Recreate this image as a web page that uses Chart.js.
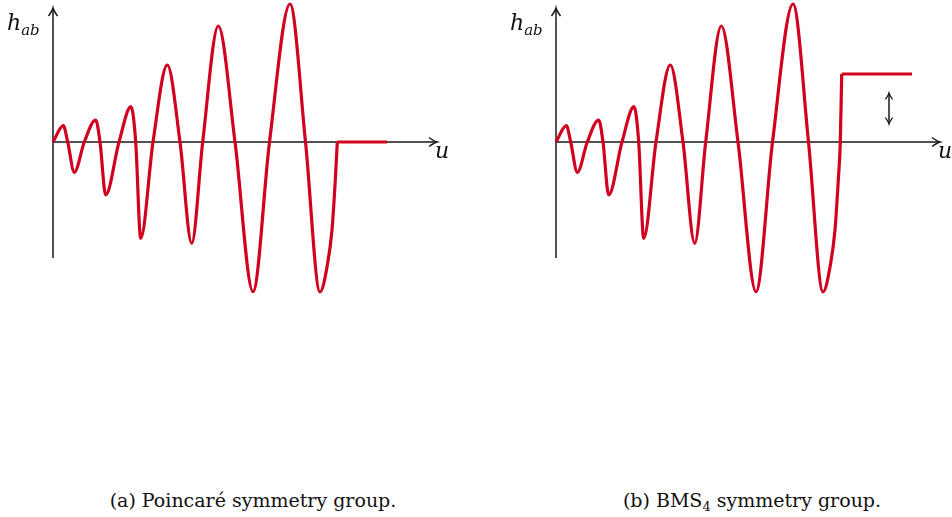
<!DOCTYPE html>
<html>
<head>
<meta charset="utf-8">
<script src="https://cdn.jsdelivr.net/npm/chart.js@4"></script>
<style>
  body { margin: 0; background: #fff; }
  #wrap { position: relative; width: 952px; height: 517px; overflow: hidden; }
  canvas { position: absolute; top: 0; }
  .lbl { position: absolute; font-family: 'DejaVu Serif', serif; font-style: italic; color: #111; white-space: nowrap; }
  .lbl sub { font-size: 15px; vertical-align: -5px; }
  .cap { position: absolute; top: 489px; width: 476px; text-align: center; font-family: 'DejaVu Serif', serif; font-size: 19px; color: #111; }
  .cap sub { font-size: 13px; vertical-align: -4px; }
</style>
</head>
<body>
<div id="wrap">
  <canvas id="poincare" width="476" height="300" style="left:0"></canvas>
  <canvas id="bms" width="476" height="300" style="left:476px"></canvas>
  <div class="lbl" style="left:7px;top:10px;font-size:22px">h<sub>ab</sub></div>
  <div class="lbl" style="left:435px;top:138px;font-size:22px">u</div>
  <div class="lbl" style="left:510px;top:10px;font-size:22px">h<sub>ab</sub></div>
  <div class="lbl" style="left:938px;top:138px;font-size:22px">u</div>
  <div class="cap" style="left:15px">(a) Poincaré symmetry group.</div>
  <div class="cap" style="left:514px">(b) BMS<sub>4</sub> symmetry group.</div>
</div>
<script>
// oscillating burst, shared by both panels (u along the axis, h up)
const waveU = [0, 1.03, 1.47, 2.13, 3.13, 4.27, 4.7, 5.27, 6.6, 7.8, 8.27, 8.77, 10.0,
  11.43, 12.7, 13.87, 14.97, 16.53, 18.2, 20.0, 21.65, 23.7, 25.25, 26.7, 27.47, 27.9, 28.23, 28.43];
const waveH = [0, 1.63, 0, -3.03, 0, 2.2, 0, -5.3, 0, 3.53, 0, -9.63, 0,
  7.7, 0, -10.13, 0, 11.6, 0, -14.97, 0, 13.8, 0, -15.0, -12.1, -8.8, -3.8, 0];

// after the burst: back to zero (a) or a permanent offset (b)
const poincareTailU = [28.43, 33.4];
const poincareTailH = [0, 0];
const bmsRiseU = [28.57];
const bmsRiseH = [6.8];
const bmsTailU = [28.57, 35.6];
const bmsTailH = [6.8, 6.8];

// axis extents and the memory-offset arrow
const axisEnd = { u: 38.4, hTop: 13.4, hBottom: -11.6 };
const jumpArrow = { u: 33.3, from: 1.8, to: 4.9 };

const RED = '#d0021f';
const AXIS = '#1a1a1a';

function pts(us, hs) {
  return us.map((u, i) => ({ x: u, y: hs[i] }));
}

function arrowHead(ctx, x, y, dir, size) {
  // latex-style curved barbs, dir = angle the tip points to
  const s = size || 1;
  ctx.save();
  ctx.translate(x, y);
  ctx.rotate(dir);
  ctx.scale(s, s);
  ctx.beginPath();
  ctx.moveTo(-8, -4.5);
  ctx.quadraticCurveTo(-2.5, -0.6, 0, 0);
  ctx.quadraticCurveTo(-2.5, 0.6, -8, 4.5);
  ctx.stroke();
  ctx.restore();
}

const axesPlugin = {
  id: 'axes',
  beforeDatasetsDraw(chart, args, opts) {
    const { ctx, scales: { x, y } } = chart;
    ctx.save();
    ctx.strokeStyle = AXIS;
    ctx.lineWidth = 1.5;
    const x0 = x.getPixelForValue(0), y0 = y.getPixelForValue(0);
    const xEnd = x.getPixelForValue(axisEnd.u);
    const yTop = y.getPixelForValue(axisEnd.hTop);
    const yBot = y.getPixelForValue(axisEnd.hBottom);
    ctx.beginPath();
    ctx.moveTo(x0, yBot);
    ctx.lineTo(x0, yTop);
    ctx.moveTo(x0, y0);
    ctx.lineTo(xEnd, y0);
    ctx.stroke();
    arrowHead(ctx, x0, yTop, -Math.PI / 2);
    arrowHead(ctx, xEnd, y0, 0);
    if (opts.jump) {
      const ax = x.getPixelForValue(jumpArrow.u);
      const a1 = y.getPixelForValue(jumpArrow.from);
      const a2 = y.getPixelForValue(jumpArrow.to);
      ctx.lineWidth = 1.5;
      ctx.beginPath();
      ctx.moveTo(ax, a1);
      ctx.lineTo(ax, a2);
      ctx.stroke();
      arrowHead(ctx, ax, a2, -Math.PI / 2, 0.8);
      arrowHead(ctx, ax, a1, Math.PI / 2, 0.8);
    }
    ctx.restore();
  }
};

function makePanel(id, datasets, xMin, jump) {
  new Chart(document.getElementById(id), {
    type: 'line',
    data: {
      datasets: datasets.map(d => ({
        data: d,
        borderColor: RED,
        borderWidth: 3.2,
        pointRadius: 0,
        cubicInterpolationMode: 'monotone',
        borderCapStyle: 'butt',
        borderJoinStyle: 'miter',
        fill: false
      }))
    },
    options: {
      responsive: false,
      animation: false,
      events: [],
      layout: { padding: 0 },
      plugins: { legend: { display: false }, tooltip: { enabled: false }, axes: { jump } },
      scales: {
        x: { type: 'linear', display: false, min: xMin, max: xMin + 47.6 },
        y: { type: 'linear', display: false, min: -15.8, max: 14.2 }
      }
    },
    plugins: [axesPlugin]
  });
}

makePanel('poincare', [pts(waveU, waveH), pts(poincareTailU, poincareTailH)], -5.3, false);
makePanel('bms', [pts(waveU.concat(bmsRiseU), waveH.concat(bmsRiseH)), pts(bmsTailU, bmsTailH)], -8.0, true);
</script>
</body>
</html>
